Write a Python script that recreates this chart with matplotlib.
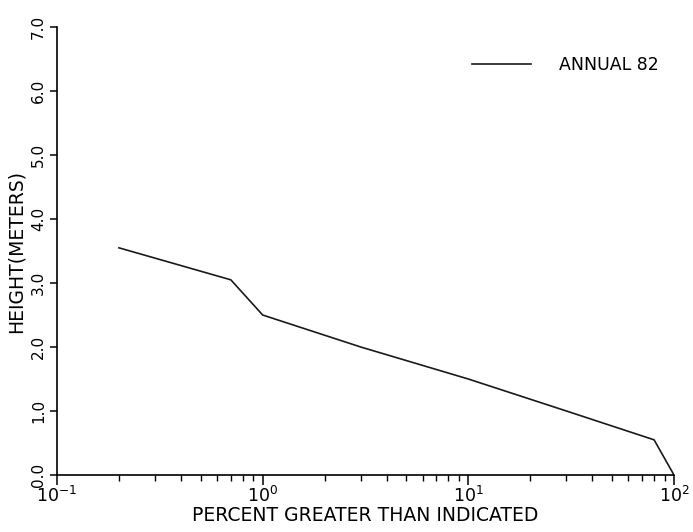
import numpy as np
import matplotlib.pyplot as plt
from matplotlib.ticker import LogLocator, NullFormatter, FixedLocator

percent = [0.2, 0.7, 1.0, 3.0, 10.0, 30.0, 80.0, 100.0]
height = [3.55, 3.05, 2.5, 2.0, 1.5, 1.0, 0.55, 0.0]
series_name = "ANNUAL 82"
yticks = [0, 1, 2, 3, 4, 5, 6, 7]
ytick_labels = ["0.0", "1.0", "2.0", "3.0", "4.0", "5.0", "6.0", "7.0"]

fig = plt.figure(figsize=(6.93, 5.32), dpi=100)
ax = fig.add_axes([0.0823, 0.1071, 0.8903, 0.8421])

ax.plot(percent, height, color='#1a1a1a', lw=1.2, label=series_name)

ax.set_xscale('log')
ax.set_xlim(0.1, 100)
ax.set_ylim(0, 7)

ax.spines['top'].set_visible(False)
ax.spines['right'].set_visible(False)
ax.spines['left'].set_linewidth(1.2)
ax.spines['bottom'].set_linewidth(1.2)

ax.xaxis.set_major_locator(LogLocator(base=10, numticks=10))
ax.xaxis.set_minor_locator(LogLocator(base=10, subs=np.arange(2, 10), numticks=20))
ax.xaxis.set_minor_formatter(NullFormatter())
ax.tick_params(axis='x', which='major', direction='out', length=7, width=1.1,
               labelsize=12.5, pad=1)
ax.tick_params(axis='x', which='minor', direction='out', length=4, width=1.0)

ax.yaxis.set_major_locator(FixedLocator(yticks))
ax.set_yticklabels(ytick_labels, rotation=90, va='center', fontsize=11)
ax.tick_params(axis='y', which='major', direction='out', length=5, width=1.1, pad=3)

ax.set_xlabel("PERCENT GREATER THAN INDICATED", fontsize=13.5, labelpad=0)
ax.set_ylabel("HEIGHT(METERS)", fontsize=13.5, labelpad=4)

ax.legend(loc='upper right', bbox_to_anchor=(1.0, 0.97), frameon=False,
          fontsize=12.5, handlelength=3.4, handletextpad=1.6)

plt.savefig("out.png", dpi=100)
